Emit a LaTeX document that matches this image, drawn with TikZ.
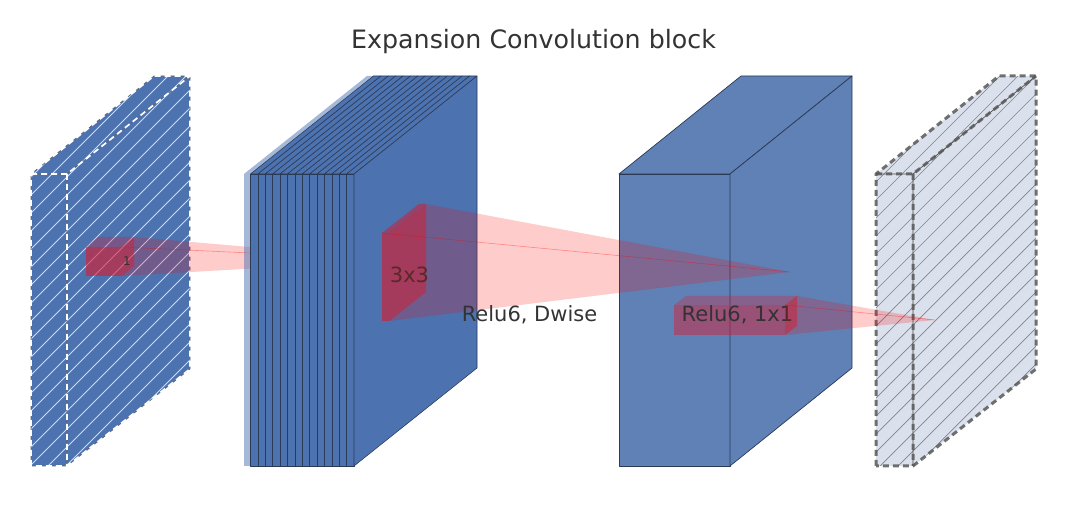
\documentclass[tikz,border=0pt]{standalone}
\usepackage{fontspec}
\setmainfont{DejaVu Sans}
\definecolor{blueA}{HTML}{4C72B0}
\definecolor{blueB}{HTML}{5F81B6}
\definecolor{paleB}{HTML}{DAE0EC}
\definecolor{edgeC}{HTML}{2B3A55}
\definecolor{txt}{HTML}{333333}
\definecolor{kred}{HTML}{E0182C}
\tikzset{
  blkedge/.style={draw=edgeC, line width=0.7pt, line join=round},
  slicedge/.style={draw=edgeC, line width=0.55pt, line join=round},
  hatchW/.style={white, line width=0.9pt, opacity=0.75},
  hatchG/.style={gray!80!black, line width=0.7pt, opacity=0.75},
  wdash/.style={white, line width=1.7pt, dash pattern=on 6pt off 4pt},
  gdash/.style={black!65, line width=3pt, dash pattern=on 6pt off 4pt, opacity=0.85},
  kernelbox/.style={fill=kred, fill opacity=0.45},
  kernelface/.style={fill=kred, fill opacity=0.3},
  pyr/.style={fill=red, fill opacity=0.2},
  pyrline/.style={draw=red, draw opacity=0.35, line width=0.6pt},
  lab/.style={text=txt, font=\fontsize{21}{24}\selectfont, inner sep=0pt, anchor=base},
}
\begin{document}
\begin{tikzpicture}[x=1pt, y=-1pt]
\path[use as bounding box, fill=white] (0,0) rectangle (1080,510);

% title
\node[text=txt, font=\fontsize{25.3}{28}\selectfont, inner sep=0pt, anchor=base] (title) at (533.5,49) {Expansion Convolution block};

% ---------------- Block 1 (input, hatched, dashed) ----------------
\fill[blueA] (31,174) -- (154,76) -- (190,76) -- (190,369) -- (67,466) -- (31,466) -- cycle;
\begin{scope}
  \clip (31,174) -- (154,76) -- (190,76) -- (190,369) -- (67,466) -- (31,466) -- cycle;
  \foreach \c in {100,118,...,700} \draw[hatchW] (\c,0) -- (\c-600,600);
\end{scope}
\draw[draw=black!60, line width=0.6pt, line join=round]
  (31,466) -- (31,174) -- (154,76) -- (190,76) -- (190,369) -- (67,466) -- (31,466)
  (31,174) -- (67,174) -- (190,76) (67,174) -- (67,466);
\draw[wdash] (31,466) -- (31,174) -- (154,76) -- (190,76) -- (190,369) -- (67,466) -- cycle;
\draw[wdash] (31,174) -- (67,174) -- (190,76) (67,174) -- (67,466);

% kernel 1
\fill[kernelbox, fill opacity=0.6] (86,247) -- (122,247) -- (122,276) -- (86,276) -- cycle;
\fill[kernelface] (86,247) -- (98,237) -- (134,237) -- (122,247) -- cycle;
\fill[kernelbox, fill opacity=0.6] (122,247) -- (134,237) -- (134,266) -- (122,276) -- cycle;
\node[text=txt, font=\fontsize{12}{14}\selectfont, inner sep=0pt, anchor=base] (one) at (127,265.5) {1};
% pyramid 1
\fill[pyr] (134,237) -- (400,260) -- (122,276) -- (134,266) -- cycle;
\draw[pyrline] (122,247) -- (400,260);

% ---------------- Block 2 (stack of slices) ----------------
\fill[blueA, fill opacity=0.5] (244,174) -- (367,76) -- (373.5,76) -- (250.5,174) -- cycle;
\fill[blueA, fill opacity=0.5] (244,174) rectangle (250.5,466);
\foreach \i in {0,...,13} {
  \pgfmathsetmacro\xa{250.5+7.39*\i}
  \pgfmathsetmacro\xb{\xa+7.39}
  \filldraw[fill=blueA, slicedge] (\xa,174) -- (\xa+123,76) -- (\xb+123,76) -- (\xb,174) -- cycle;
  \filldraw[fill=blueA, slicedge] (\xa,174) rectangle (\xb,466);
}
\filldraw[fill=blueA, slicedge] (354,174) -- (477,76) -- (477,368) -- (354,466) -- cycle;

% kernel 2
\fill[kernelbox] (382,233) -- (389,233) -- (389,321) -- (382,321) -- cycle;
\fill[kernelface] (382,233) -- (419,204) -- (426,204) -- (389,233) -- cycle;
\fill[kernelbox] (389,233) -- (426,204) -- (426,292) -- (389,321) -- cycle;
\node[lab] (k3) at (409.5,283) {3x3};

% ---------------- Block 3 ----------------
\filldraw[fill=blueB, blkedge] (619,174) -- (741,76) -- (852,76) -- (730,174) -- cycle;
\filldraw[fill=blueB, blkedge] (619,174) rectangle (730,466);
\filldraw[fill=blueB, blkedge] (730,174) -- (852,76) -- (852,368) -- (730,466) -- cycle;

% pyramid 2
\fill[pyr] (382,233) -- (419,204) -- (426,204) -- (790,272) -- (389,321) -- (382,321) -- cycle;
\draw[pyrline] (382,233) -- (790,272);
\node[lab] (dw) at (529.5,322) {Relu6, Dwise};

% kernel 3
\fill[kernelbox] (674,305) -- (785,305) -- (785,335) -- (674,335) -- cycle;
\fill[kernelface] (674,305) -- (686,296) -- (797,296) -- (785,305) -- cycle;
\fill[kernelbox] (785,305) -- (797,296) -- (797,326) -- (785,335) -- cycle;
\node[lab] (pw) at (737.5,322) {Relu6, 1x1};

% ---------------- Block 4 (output, pale, hatched, dashed) ----------------
\fill[paleB] (876,174) -- (999,76) -- (1036,76) -- (1036,369) -- (913,466) -- (876,466) -- cycle;
\begin{scope}
  \clip (876,174) -- (999,76) -- (1036,76) -- (1036,369) -- (913,466) -- (876,466) -- cycle;
  \foreach \c in {950,968,...,1520} \draw[hatchG] (\c,0) -- (\c-600,600);
\end{scope}
\draw[draw=black!70, line width=0.7pt, line join=round]
  (876,174) -- (913,174) -- (1036,76) (913,174) -- (913,466);
\draw[gdash] (876,466) -- (876,174) -- (999,76) -- (1036,76) -- (1036,369) -- (913,466) -- cycle;
\draw[gdash] (876,174) -- (913,174) -- (1036,76) (913,174) -- (913,466);

% pyramid 3
\fill[pyr] (797,296) -- (935,320) -- (785,335) -- (785,305) -- cycle;
\draw[pyrline] (785,305) -- (935,320);
\end{tikzpicture}
\end{document}
